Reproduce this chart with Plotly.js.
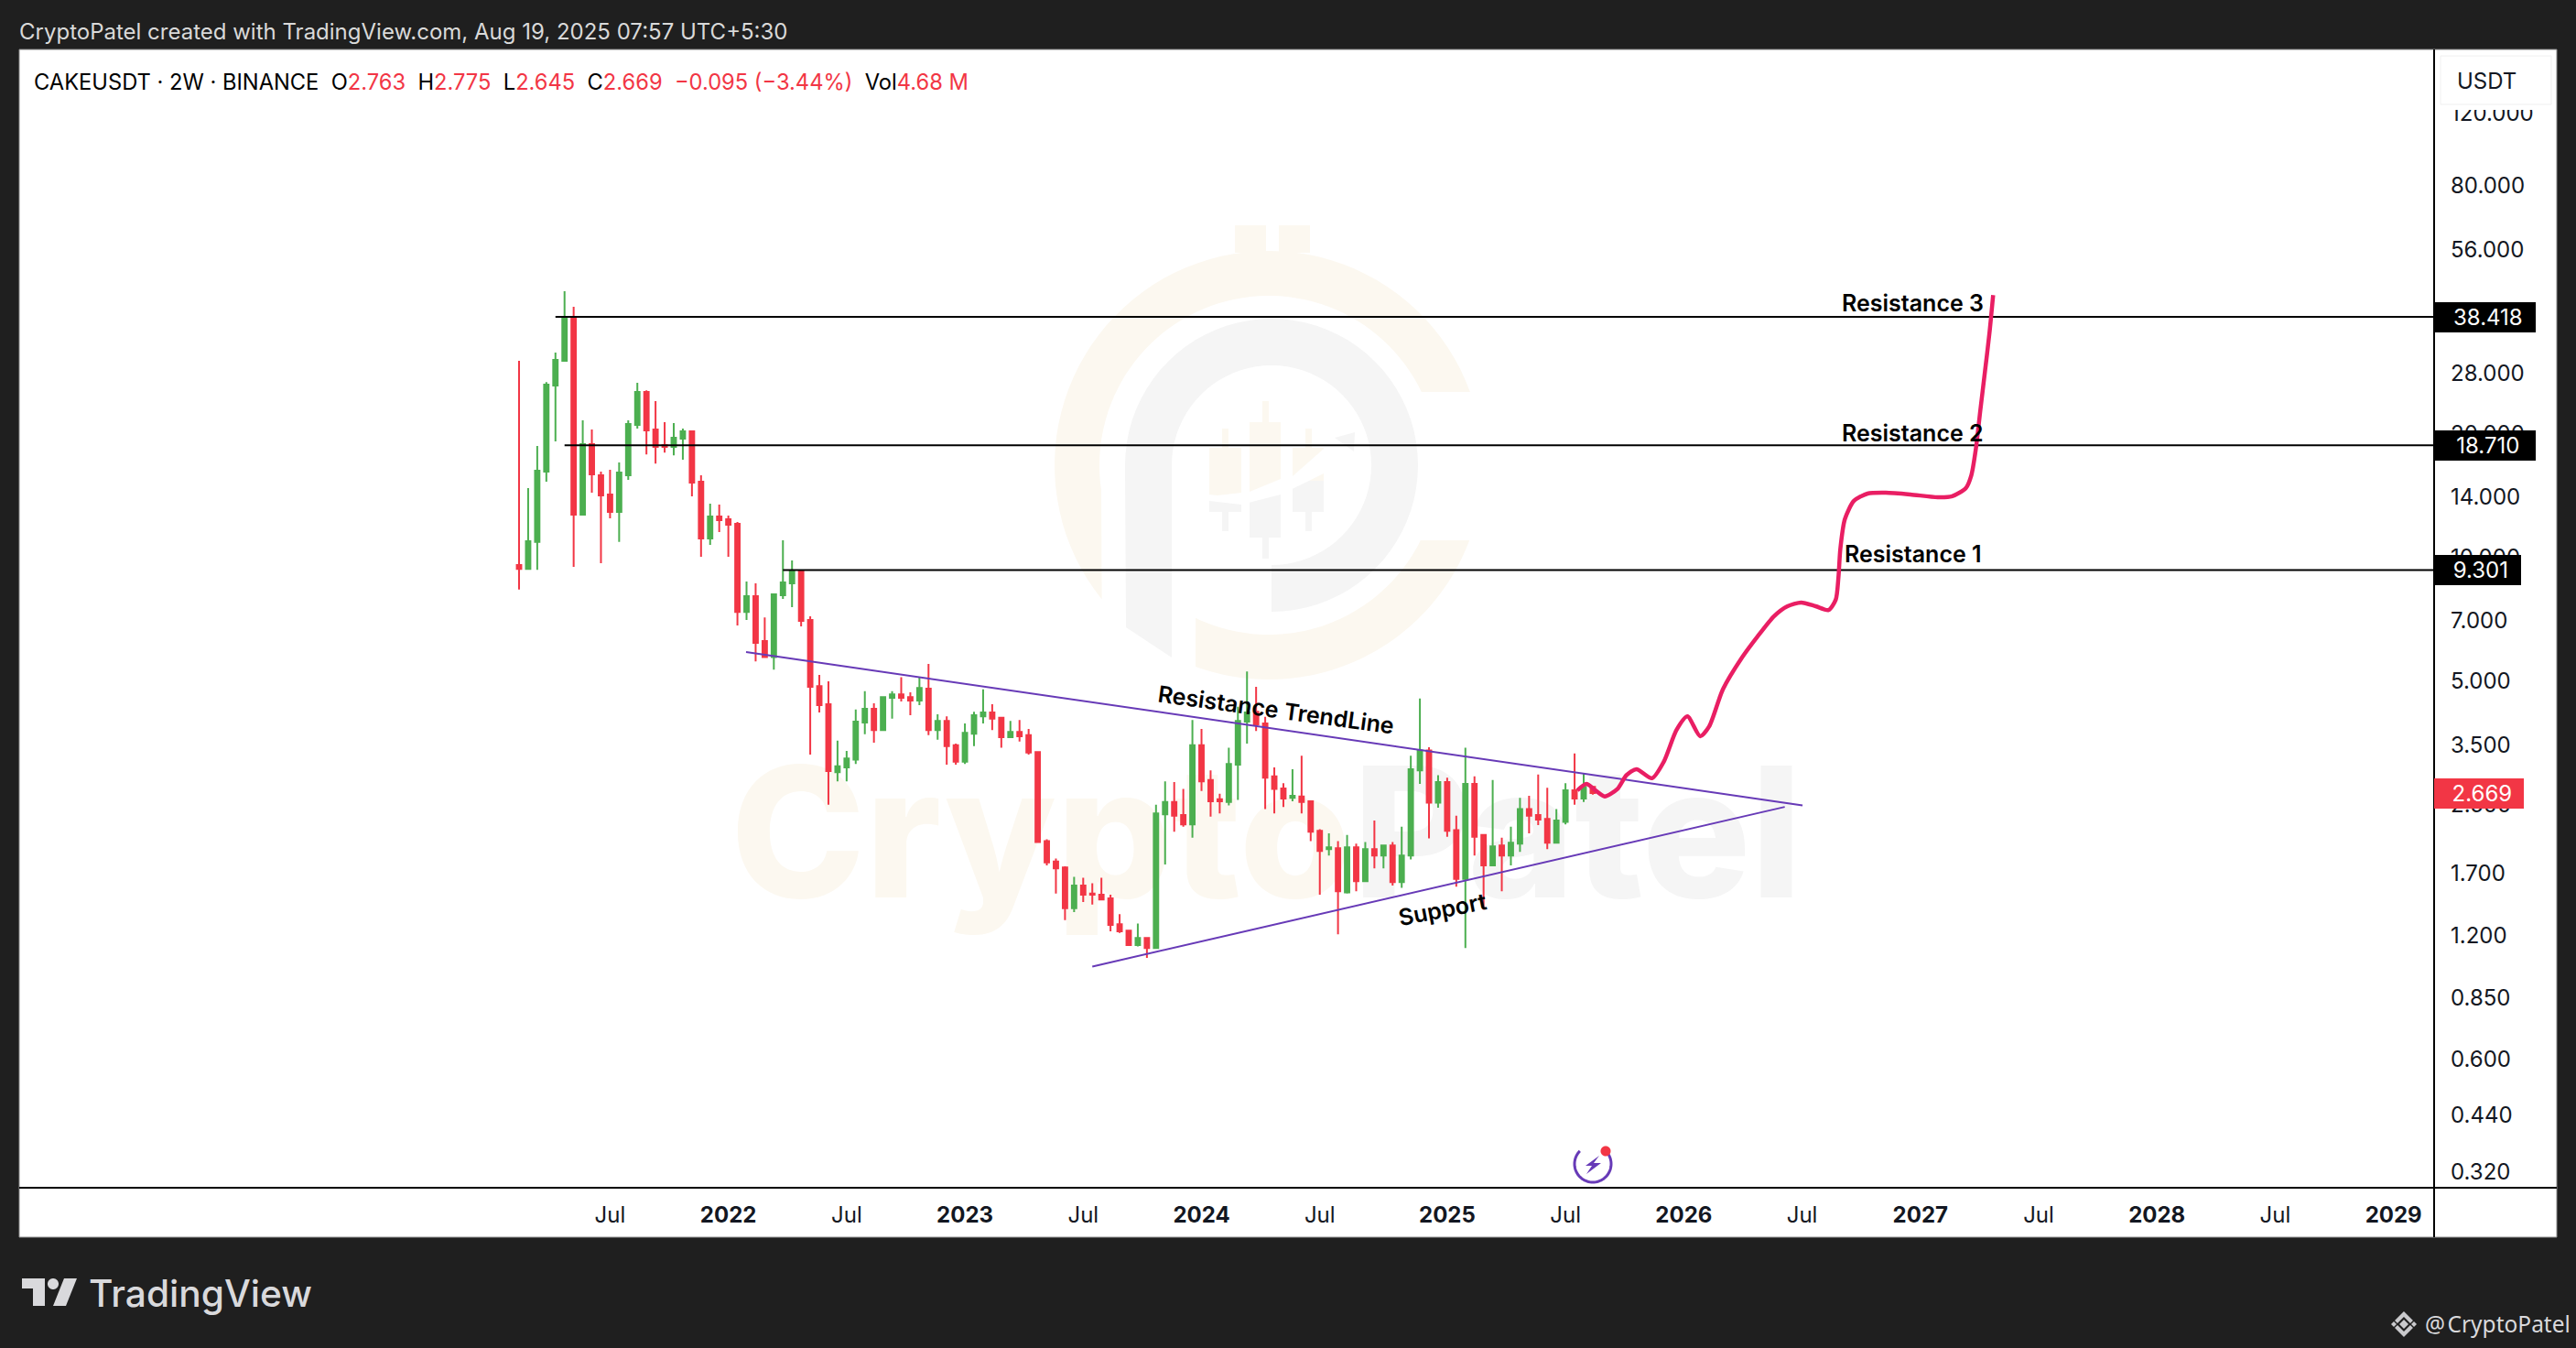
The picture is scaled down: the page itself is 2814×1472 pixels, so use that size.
<!DOCTYPE html>
<html>
<head>
<meta charset="utf-8">
<script src="https://cdn.plot.ly/plotly-3.0.1.min.js"></script>
<style>html,body{margin:0;padding:0;background:#1f1f1f}#chart{width:2814px;height:1472px}</style>
</head>
<body>
<div id="chart"></div>
<script>
// ---- candle series (2W bars, CAKEUSDT) ----
const opens  = [9.57,9.37,10.89,16.15,26.15,30.05,38.42,12.69,18.83,15.82,14.21,12.88,15.82,20.97,25.22,20.45,18.73,18.55,19.42,20.23,15.26,11.11,12.56,12.37,12.06,7.36,8.04,6.25,5.72,8.08,8.64,9.27,7.04,4.86,4.39,3.0,3.08,3.22,3.96,4.28,3.80,4.55,4.64,4.57,4.48,4.79,3.80,4.0,3.49,3.18,3.72,4.1,4.19,4.07,3.65,3.76,3.69,3.36,2.04,1.82,1.76,1.40,1.59,1.52,1.51,1.48,1.28,1.235,1.14,1.185,1.12,2.37,2.54,2.36,2.24,3.49,2.87,2.58,2.54,3.13,3.98,4.21,3.94,2.93,2.74,2.60,2.62,2.55,2.16,1.95,1.96,1.53,1.97,1.63,1.95,1.88,1.99,1.62,1.88,3.03,3.39,2.53,2.84,2.17,1.65,2.81,2.11,1.78,1.99,1.88,2.01,2.44,2.36,2.31,2.02,2.27,2.71,2.59,2.763];
const highs  = [30.05,14.73,18.64,26.68,31.45,44.35,40.65,21.52,20.45,16.15,16.32,17.0,21.52,26.55,25.47,23.96,21.3,21.19,20.55,20.34,15.82,13.5,13.43,12.62,12.18,8.73,8.64,7.14,8.12,11.0,9.82,9.32,7.18,5.17,4.99,3.58,3.38,4.26,4.72,4.41,4.57,4.72,5.11,4.69,5.11,5.5,4.15,4.1,3.52,3.94,4.21,4.77,4.39,4.09,4.0,4.02,3.82,3.36,2.06,1.85,1.77,1.67,1.66,1.61,1.66,1.51,1.355,1.235,1.285,1.19,2.5,2.85,2.84,2.73,4.02,3.82,3.03,2.66,3.44,4.33,5.27,4.84,4.09,3.08,2.82,3.05,3.29,2.55,2.18,2.13,2.04,2.11,2.01,2.03,2.29,1.99,2.03,2.21,3.29,4.53,3.45,2.95,2.91,2.35,3.44,2.93,2.12,2.87,2.08,2.21,2.60,2.63,2.96,2.75,2.44,2.82,3.33,2.98,2.775];
const lows   = [8.34,9.37,9.32,15.26,19.13,30.05,9.47,12.69,14.36,9.67,12.43,10.89,15.43,20.55,17.78,16.9,17.97,17.7,17.26,14.07,10.02,10.72,11.51,10.02,6.82,7.04,5.58,5.72,5.33,7.92,7.56,6.79,3.31,4.19,2.5,2.85,2.85,3.14,3.71,3.54,3.80,4.05,4.46,4.13,4.37,3.69,3.6,3.13,3.13,3.14,3.47,3.94,3.80,3.44,3.63,3.56,3.31,2.03,1.78,1.52,1.31,1.37,1.45,1.43,1.465,1.23,1.22,1.14,1.13,1.06,1.12,1.79,2.15,2.21,2.08,2.70,2.34,2.38,2.49,2.57,3.52,3.78,2.44,2.38,2.47,2.55,2.38,2.04,1.51,1.88,1.21,1.52,1.54,1.63,1.75,1.75,1.59,1.57,1.84,2.81,2.07,2.46,2.09,1.58,1.12,1.88,1.39,1.78,1.54,1.78,1.92,2.13,2.23,1.95,2.01,2.24,2.50,2.54,2.645];
const closes = [9.37,10.94,16.23,26.28,30.2,38.42,12.69,18.83,15.9,14.14,12.88,16.07,21.08,25.22,20.34,18.55,18.55,19.52,20.23,15.18,11.11,12.56,12.3,12.0,7.36,8.04,6.19,5.72,8.12,8.68,9.27,7.0,4.84,4.37,3.02,3.10,3.24,3.98,4.28,3.80,4.57,4.64,4.55,4.48,4.81,3.80,4.0,3.47,3.18,3.74,4.13,4.19,4.05,3.65,3.76,3.67,3.35,2.03,1.81,1.75,1.40,1.59,1.51,1.51,1.47,1.275,1.23,1.14,1.185,1.12,2.38,2.54,2.35,2.24,3.49,2.85,2.55,2.55,3.14,4.0,4.19,3.92,2.91,2.73,2.59,2.63,2.54,2.15,1.93,1.97,1.54,1.97,1.63,1.95,1.88,1.99,1.62,1.88,3.05,3.39,2.53,2.84,2.16,1.65,2.81,2.09,1.78,1.98,1.88,2.02,2.44,2.35,2.30,2.02,2.29,2.71,2.59,2.763,2.669];

// ---- axes ----
const xTickBars   = [10,23,36,49,62,75,88,102,115,128,141,154,167,180,193,206];
const xTickLabels = ['Jul','<b>2022</b>','Jul','<b>2023</b>','Jul','<b>2024</b>','Jul','<b>2025</b>','Jul','<b>2026</b>','Jul','<b>2027</b>','Jul','<b>2028</b>','Jul','<b>2029</b>'];
const yTicks      = [120,80,56,28,20,14,10,7,5,3.5,2.5,1.7,1.2,0.85,0.6,0.44,0.32];
const xRange      = [-54.93,210.46];
const yRangeLog   = [-0.5336,2.2350];

// ---- drawn lines ----
const levelPrices = [38.418,18.710,9.301];
const levelStarts = [4,5,29];
const levelNames  = ['Resistance 3','Resistance 2','Resistance 1'];
const levelLabelY = [41.5,20.05,10.18];
const resistLineX = [24.95,141.05];
const resistLineY = [5.88,2.49];
const supportLineX= [63,139.1];
const supportLineY= [1.01,2.47];
const forecastX = [116.3,117.3,118.3,119.3,120.7,121.7,122.8,124.5,125.8,127.2,128.4,129.8,130.8,132.3,134.4,136.1,137.9,139.4,140.9,142.5,143.9,144.7,145.0,145.2,145.7,146.7,148.2,150.2,152.9,155.9,157.5,159.0,159.6,160.1,160.6,161.1,161.6,162.0];
const forecastY = [2.71,2.81,2.71,2.62,2.73,2.95,3.05,2.90,3.18,3.80,4.10,3.67,3.88,4.77,5.70,6.41,7.18,7.60,7.76,7.60,7.44,7.88,8.95,10.45,12.37,13.71,14.28,14.35,14.21,13.99,14.07,14.73,15.82,18.36,22.87,28.3,35.2,43.4];

// ---- page geometry ----
const L=21,R=2659,T=54,B=1297,W=2814,H=1472;
const FONT='Inter, sans-serif';
const GREEN='#4caf50',RED='#f23645',PURPLE='#673ab7',PINK='#e91e63',BEIGE='#fcf8f0',GRAY='#f5f5f5';
const px=x=>(x-L)/(R-L), py=y=>(B-y)/(B-T);
const pathPaper=pts=>'M'+pts.map(p=>px(p[0]).toFixed(5)+','+py(p[1]).toFixed(5)).join(' L')+' Z';
const pathPx=pts=>'M'+pts.map(p=>p[0].toFixed(1)+','+p[1].toFixed(1)).join(' L')+' Z';
const arc=(cx,cy,r,a0,a1)=>{const n=60,o=[];for(let i=0;i<=n;i++){const t=(a0+(a1-a0)*i/n)*Math.PI/180;o.push([cx+r*Math.cos(t),cy-r*Math.sin(t)]);}return o;};
const wm=(pts,color)=>({type:'path',xref:'x',yref:'y',layer:'below',path:pathPx(pts),fillcolor:color,line:{width:0}});
const rect=(a,b,c,d)=>[[a,b],[c,b],[c,d],[a,d]];
const page=(pts,color,layer)=>({type:'path',xref:'paper',yref:'paper',layer:layer||'above',path:pathPaper(pts),fillcolor:color,line:{width:0}});

const shapes=[
  {type:'rect',xref:'paper',yref:'paper',layer:'below',x0:px(21),x1:px(2793),y0:py(1351),y1:py(54),fillcolor:'#ffffff',line:{color:'#8a8a8a',width:1}},
  wm([...arc(1386,508,234,20,218.8),[1203,535],...arc(1386,508,185,188.4,25.6)],BEIGE),
  wm([...arc(1386,508,234,250,339.5),...arc(1386,508,185,333.7,244.4)],BEIGE),
  wm(rect(1349,246,1383,276),BEIGE),
  wm(rect(1397,246,1431,276),BEIGE),
  wm([[1230,685],...arc(1389,508,160,180,-90),...arc(1389,508,109,-90,180),[1280,718]],GRAY),
  wm(rect(1335,468,1342,580),GRAY),wm(rect(1321,489,1356,559),GRAY),
  wm(rect(1379,438,1386,610),GRAY),wm(rect(1365,461,1399,587),GRAY),
  wm(rect(1426,468,1433,580),GRAY),wm(rect(1412,489,1446,559),GRAY),
  wm(rect(1335,468,1342,500),BEIGE),wm(rect(1321,489,1356,542),BEIGE),
  wm(rect(1379,438,1386,470),BEIGE),wm(rect(1365,461,1399,540),BEIGE),
  wm(rect(1426,468,1433,500),BEIGE),wm(rect(1412,489,1446,525),BEIGE),
  wm([[1291,537],[1330,541],[1365,537],[1399,523],[1412,520],[1446,490],[1461,478],[1479,490],[1470,497],[1446,517],[1430,525],[1399,540],[1356,551],[1321,547]],'#ffffff'),
  wm([[1458,478],[1480,472],[1479,493]],GRAY),
  {type:'line',xref:'paper',yref:'paper',layer:'above',x0:px(21),x1:px(2793),y0:py(1297),y1:py(1297),line:{color:'#000',width:2}},
  {type:'line',xref:'paper',yref:'paper',layer:'above',x0:px(2659),x1:px(2659),y0:py(54),y1:py(1351),line:{color:'#000',width:2}},
  page(rect(2661,56,2791,120),'#ffffff'),
  {type:'rect',xref:'paper',yref:'paper',layer:'above',x0:px(2666),x1:px(2787),y0:py(114),y1:py(61),fillcolor:'#ffffff',line:{color:'#f0f0f0',width:1}},
  {type:'path',xref:'paper',yref:'paper',layer:'above',path:'M'+arc(1740,1271,20,45,-225).map(p=>px(p[0]).toFixed(5)+','+py(p[1]).toFixed(5)).join(' L'),line:{color:PURPLE,width:3}},
  page(arc(1754,1257,5.5,0,360),RED),
  page([[1747,1262],[1732,1273],[1739,1273],[1733,1282],[1749,1270],[1741,1270]],PURPLE),
  page([[24,1396],[49,1396],[49,1426],[36,1426],[36,1407],[24,1407]],'#d9d9dc','below'),
  page(arc(58,1402,6,0,360),'#d9d9dc','below'),
  page([[70,1396],[84,1396],[72,1426],[58,1426]],'#d9d9dc','below'),
  page([[2626,1441],[2631,1446],[2626,1451],[2621,1446]],'#c9c9cc','below'),
  page([[2626,1432],[2636,1442],[2633,1445],[2626,1438],[2619,1445],[2616,1442]],'#c9c9cc','below'),
  page([[2626,1460],[2636,1450],[2633,1447],[2626,1454],[2619,1447],[2616,1450]],'#c9c9cc','below'),
  page([[2615,1443],[2618,1446],[2615,1449],[2612,1446]],'#c9c9cc','below'),
  page([[2637,1443],[2640,1446],[2637,1449],[2634,1446]],'#c9c9cc','below')
];

const barIndex=closes.map((_,i)=>i);
const data=[
  {type:'scatter',mode:'text',x:[798],y:[930],text:['Crypto'],textposition:'middle right',xaxis:'x',yaxis:'y',hoverinfo:'skip',showlegend:false,textfont:{family:FONT,size:198,color:BEIGE,weight:800}},
  {type:'scatter',mode:'text',x:[1478],y:[930],text:['Patel'],textposition:'middle right',xaxis:'x',yaxis:'y',hoverinfo:'skip',showlegend:false,textfont:{family:FONT,size:198,color:GRAY,weight:800}},
  {type:'candlestick',x:barIndex,open:opens,high:highs,low:lows,close:closes,xaxis:'x2',yaxis:'y2',width:0.6,whiskerwidth:0,showlegend:false,hoverinfo:'skip',
   increasing:{line:{color:GREEN,width:2},fillcolor:GREEN},decreasing:{line:{color:RED,width:2},fillcolor:RED}},
  ...levelPrices.map((p,i)=>({type:'scatter',mode:'lines',x:[levelStarts[i],xRange[1]],y:[p,p],xaxis:'x2',yaxis:'y2',showlegend:false,hoverinfo:'skip',line:{color:'#000',width:2}})),
  {type:'scatter',mode:'lines',x:resistLineX,y:resistLineY,xaxis:'x2',yaxis:'y2',showlegend:false,hoverinfo:'skip',line:{color:PURPLE,width:2}},
  {type:'scatter',mode:'lines',x:supportLineX,y:supportLineY,xaxis:'x2',yaxis:'y2',showlegend:false,hoverinfo:'skip',line:{color:PURPLE,width:2}},
  {type:'scatter',mode:'lines',x:forecastX,y:forecastY,xaxis:'x2',yaxis:'y2',showlegend:false,hoverinfo:'skip',line:{color:PINK,width:4.5,shape:'spline',smoothing:0.7}}
];

const rv=(c,t)=>`<span style="color:${c}">${t}</span>`;
const NB='\u00a0';
const legendText='CAKEUSDT · 2W · BINANCE'+NB+NB+'O'+rv(RED,'2.763')+NB+NB+'H'+rv(RED,'2.775')+NB+NB+'L'+rv(RED,'2.645')+NB+NB+'C'+rv(RED,'2.669')+NB+NB+rv(RED,'−0.095 (−3.44%)')+NB+NB+'Vol'+rv(RED,'4.68'+NB+'M');
const pageNote=(x,y,text,font,anchor)=>({xref:'paper',yref:'paper',x:px(x),y:py(y),text,showarrow:false,xanchor:anchor||'left',yanchor:'middle',font:Object.assign({family:FONT},font)});
const priceTag=(p,label,w,bg)=>({xref:'paper',yref:'y2',x:1,y:Math.log10(p),xanchor:'left',yanchor:'middle',text:NB+label,showarrow:false,bgcolor:bg,borderwidth:0,width:w,height:33,borderpad:0,align:'center',font:{family:FONT,size:24,color:'#fff'}});
const chartNote=(bar,price,text,angle,size)=>({xref:'x2',yref:'y2',x:bar,y:Math.log10(price),text,showarrow:false,textangle:angle,xanchor:'center',yanchor:'middle',font:{family:FONT,size,color:'#000',weight:600}});

const annotations=[
  pageNote(19,35,'CryptoPatel created with TradingView.com, Aug 19, 2025 07:57 UTC+5:30',{size:24,color:'#d9d9d9'}),
  pageNote(35,89,legendText,{size:23.7,color:'#000'}),
  pageNote(2716,88,'USDT',{size:24,color:'#131722'},'center'),
  pageNote(95,1412,'TradingView',{size:40.7,color:'#d9d9dc',weight:500}),
  pageNote(2647,1445,'@\u200aCryptoPatel',{size:24.5,color:'#d9d9dc',family:'Noto Sans, sans-serif'}),
  ...levelPrices.map((p,i)=>priceTag(p,p.toFixed(3),i<2?111:95,'#000')),
  priceTag(closes[closes.length-1],closes[closes.length-1].toFixed(3),98,RED),
  ...levelNames.map((n,i)=>chartNote(153.2,levelLabelY[i],n,0,25)),
  chartNote(83.2,4.26,'Resistance TrendLine',7.8,25),
  chartNote(101.5,1.395,'Support',-11,25)
];

const layout={
  width:W,height:H,margin:{l:L,r:W-R,t:T,b:H-B,pad:0},autosize:false,showlegend:false,hovermode:false,
  paper_bgcolor:'#1f1f1f',plot_bgcolor:'rgba(0,0,0,0)',
  xaxis:{domain:[0,1],range:[L,R],visible:false,fixedrange:true},
  yaxis:{domain:[0,1],range:[B,T],visible:false,fixedrange:true},
  xaxis2:{domain:[0,1],anchor:'y2',type:'linear',range:xRange,tickmode:'array',tickvals:xTickBars,ticktext:xTickLabels,showgrid:false,zeroline:false,showline:false,ticks:'',ticklabelstandoff:13,tickangle:0,tickfont:{family:FONT,size:24,color:'#131722'},rangeslider:{visible:false},fixedrange:true},
  yaxis2:{domain:[0,1],anchor:'x2',type:'log',side:'right',range:yRangeLog,tickmode:'array',tickvals:yTicks,tickformat:'.3f',showgrid:false,zeroline:false,showline:false,ticks:'',ticklabelstandoff:17,tickfont:{family:FONT,size:24,color:'#131722'},fixedrange:true},
  shapes,annotations
};
Plotly.newPlot('chart',data,layout,{displayModeBar:false,staticPlot:true});
</script>
</body>
</html>
